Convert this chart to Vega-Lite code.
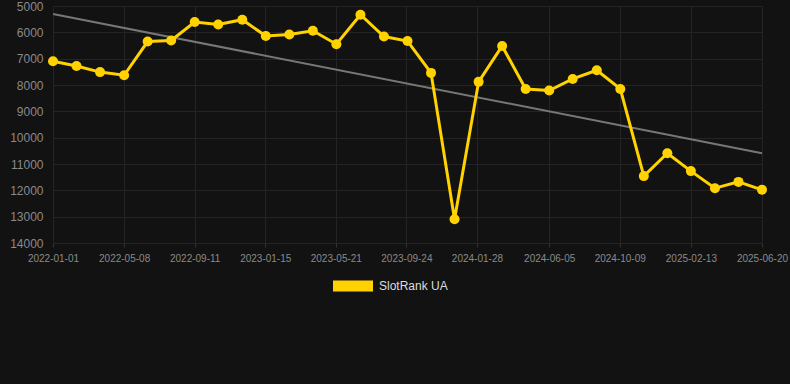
{
  "$schema": "https://vega.github.io/schema/vega-lite/v6.json",
  "width": 709,
  "height": 237,
  "autosize": "none",
  "padding": {"left": 53, "top": 6, "right": 28, "bottom": 141},
  "background": "#121212",
  "config": {
    "view": {"stroke": null},
    "font": "Liberation Sans",
    "axis": {
      "gridColor": "#242424",
      "gridWidth": 1,
      "domain": false,
      "labelColor": "#8a8a8a",
      "tickColor": "#333333",
      "title": null
    }
  },
  "datasets": {
    "rank": [
      {"date": "2022-01-01", "rank": 7100, "series": "SlotRank UA"},
      {"date": "2022-02-12", "rank": 7280, "series": "SlotRank UA"},
      {"date": "2022-03-26", "rank": 7510, "series": "SlotRank UA"},
      {"date": "2022-05-08", "rank": 7630, "series": "SlotRank UA"},
      {"date": "2022-06-19", "rank": 6350, "series": "SlotRank UA"},
      {"date": "2022-07-31", "rank": 6310, "series": "SlotRank UA"},
      {"date": "2022-09-11", "rank": 5610, "series": "SlotRank UA"},
      {"date": "2022-10-23", "rank": 5700, "series": "SlotRank UA"},
      {"date": "2022-12-05", "rank": 5520, "series": "SlotRank UA"},
      {"date": "2023-01-16", "rank": 6140, "series": "SlotRank UA"},
      {"date": "2023-02-27", "rank": 6080, "series": "SlotRank UA"},
      {"date": "2023-04-10", "rank": 5940, "series": "SlotRank UA"},
      {"date": "2023-05-22", "rank": 6450, "series": "SlotRank UA"},
      {"date": "2023-07-04", "rank": 5330, "series": "SlotRank UA"},
      {"date": "2023-08-15", "rank": 6160, "series": "SlotRank UA"},
      {"date": "2023-09-26", "rank": 6330, "series": "SlotRank UA"},
      {"date": "2023-11-07", "rank": 7540, "series": "SlotRank UA"},
      {"date": "2023-12-19", "rank": 13100, "series": "SlotRank UA"},
      {"date": "2024-01-31", "rank": 7880, "series": "SlotRank UA"},
      {"date": "2024-03-13", "rank": 6520, "series": "SlotRank UA"},
      {"date": "2024-04-24", "rank": 8150, "series": "SlotRank UA"},
      {"date": "2024-06-05", "rank": 8210, "series": "SlotRank UA"},
      {"date": "2024-07-17", "rank": 7770, "series": "SlotRank UA"},
      {"date": "2024-08-29", "rank": 7440, "series": "SlotRank UA"},
      {"date": "2024-10-10", "rank": 8150, "series": "SlotRank UA"},
      {"date": "2024-11-21", "rank": 11460, "series": "SlotRank UA"},
      {"date": "2025-01-02", "rank": 10590, "series": "SlotRank UA"},
      {"date": "2025-02-13", "rank": 11270, "series": "SlotRank UA"},
      {"date": "2025-03-28", "rank": 11920, "series": "SlotRank UA"},
      {"date": "2025-05-09", "rank": 11680, "series": "SlotRank UA"},
      {"date": "2025-06-20", "rank": 11980, "series": "SlotRank UA"}
    ],
    "trend": [
      {"date": "2022-01-01", "rank": 5305},
      {"date": "2025-06-20", "rank": 10590}
    ]
  },
  "encoding": {
    "x": {
      "field": "date",
      "type": "temporal",
      "scale": {
        "type": "utc",
        "domain": [
          {"year": 2022, "month": 1, "date": 1, "utc": true},
          {"year": 2025, "month": 6, "date": 20, "utc": true}
        ]
      },
      "axis": {
        "values": [
          {"year": 2022, "month": 1, "date": 1, "utc": true},
          {"year": 2022, "month": 5, "date": 8, "utc": true},
          {"year": 2022, "month": 9, "date": 11, "utc": true},
          {"year": 2023, "month": 1, "date": 15, "utc": true},
          {"year": 2023, "month": 5, "date": 21, "utc": true},
          {"year": 2023, "month": 9, "date": 24, "utc": true},
          {"year": 2024, "month": 1, "date": 28, "utc": true},
          {"year": 2024, "month": 6, "date": 5, "utc": true},
          {"year": 2024, "month": 10, "date": 9, "utc": true},
          {"year": 2025, "month": 2, "date": 13, "utc": true},
          {"year": 2025, "month": 6, "date": 20, "utc": true}
        ],
        "labelExpr": "utcFormat(datum.value, '%Y-%m-%d')",
        "labelFontSize": 10,
        "labelAngle": 0,
        "tickSize": 4,
        "labelPadding": 6,
        "labelOverlap": false,
        "labelFlush": false,
        "labelBound": false
      }
    },
    "y": {
      "field": "rank",
      "type": "quantitative",
      "scale": {"domain": [5000, 14000], "reverse": true, "zero": false, "nice": false},
      "axis": {
        "values": [5000, 6000, 7000, 8000, 9000, 10000, 11000, 12000, 13000, 14000],
        "format": "d",
        "labelFontSize": 12,
        "ticks": false,
        "labelPadding": 10,
        "labelOverlap": false,
        "labelFlush": false
      }
    }
  },
  "layer": [
    {
      "data": {"name": "trend"},
      "mark": {"type": "line", "color": "#777777", "strokeWidth": 2}
    },
    {
      "data": {"name": "rank"},
      "mark": {
        "type": "line",
        "strokeWidth": 3,
        "point": {"filled": true, "size": 100, "opacity": 1}
      },
      "encoding": {
        "color": {
          "field": "series",
          "type": "nominal",
          "scale": {"domain": ["SlotRank UA"], "range": ["#FFD200"]},
          "legend": {
            "title": null,
            "orient": "none",
            "legendX": 280,
            "legendY": 260,
            "symbolType": "M-1,-0.28L1,-0.28L1,0.28L-1,0.28Z",
            "symbolSize": 1600,
            "symbolStrokeWidth": 0,
            "symbolFillColor": "#FFD200",
            "labelColor": "#dddddd",
            "labelFontSize": 12,
            "labelOffset": 6
          }
        }
      }
    }
  ]
}
